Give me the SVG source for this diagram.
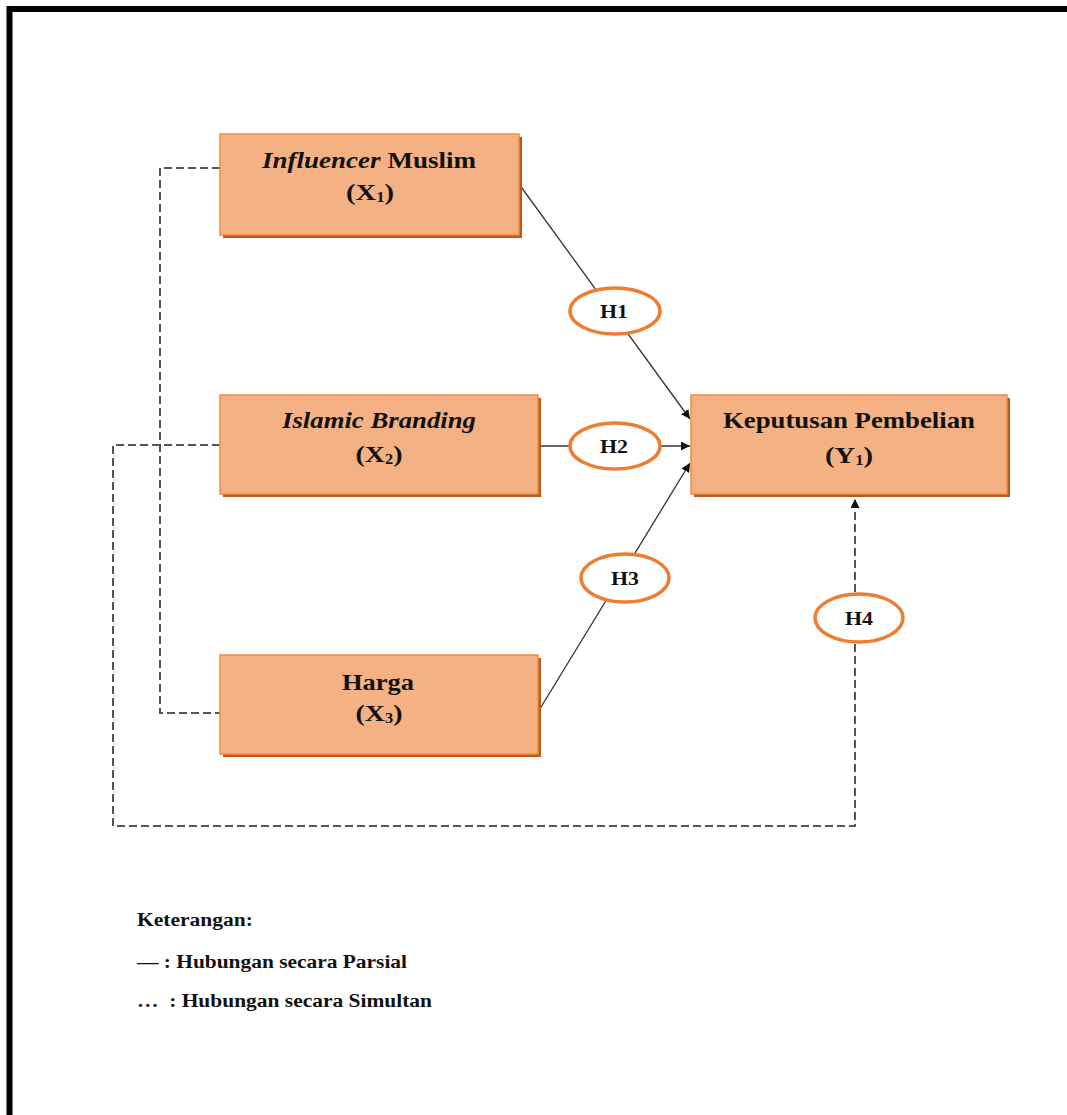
<svg xmlns="http://www.w3.org/2000/svg" width="1067" height="1115" viewBox="0 0 1067 1115">
<defs>
<style>
.box{fill:#F4B183;stroke:#F08A45;stroke-width:1.5}
.shadow{fill:#B85A1E}
.t{font-family:"Liberation Serif","Times New Roman",serif;font-weight:bold;font-size:24px;fill:#111;text-anchor:middle}
.h{font-family:"Liberation Serif","Times New Roman",serif;font-weight:bold;font-size:19px;fill:#111;text-anchor:middle}
.lg{font-family:"Liberation Serif","Times New Roman",serif;font-weight:bold;font-size:18px;fill:#111}
.ell{fill:#fff;stroke:#ED7D31;stroke-width:3.5}
.solid{stroke:#333;stroke-width:1.3;fill:none}
.dash{stroke:#555;stroke-width:2;fill:none;stroke-dasharray:8 4}
</style>
<marker id="arr" viewBox="0 0 10 10" refX="10" refY="5" markerWidth="9" markerHeight="9" markerUnits="userSpaceOnUse" orient="auto">
<path d="M0,0 L10,5 L0,10 z" fill="#111"/>
</marker>
</defs>
<rect width="1067" height="1115" fill="#fff"/>
<path d="M9.5,1115 V9 H1067" fill="none" stroke="#000" stroke-width="6"/>

<g id="connectors">
<path class="solid" d="M519,184 L690,419" marker-end="url(#arr)"/>
<path class="solid" d="M538,446 L690,446" marker-end="url(#arr)"/>
<path class="solid" d="M538,712 L690,463" marker-end="url(#arr)"/>
<path class="dash" d="M220,168 H160 V713 H220"/>
<path class="dash" d="M220,445 H113 V826 H855 V499" marker-end="url(#arr)"/>
</g>

<g id="x1">
<rect class="shadow" x="223" y="137" width="299" height="101"/>
<rect class="box" x="220" y="134" width="299" height="101"/>
<text class="t" x="369" y="168" textLength="214" lengthAdjust="spacingAndGlyphs"><tspan font-style="italic">Influencer</tspan> Muslim</text>
<text class="t" x="370" y="200" textLength="48" lengthAdjust="spacingAndGlyphs">(X<tspan font-size="14" dy="2">1</tspan><tspan dy="-2">)</tspan></text>
</g>
<g id="x2">
<rect class="shadow" x="223" y="398" width="318" height="99"/>
<rect class="box" x="220" y="395" width="318" height="99"/>
<text class="t" x="379" y="428" font-style="italic" textLength="194" lengthAdjust="spacingAndGlyphs">Islamic Branding</text>
<text class="t" x="379" y="462" textLength="47" lengthAdjust="spacingAndGlyphs">(X<tspan font-size="14" dy="2">2</tspan><tspan dy="-2">)</tspan></text>
</g>
<g id="x3">
<rect class="shadow" x="223" y="658" width="318" height="99"/>
<rect class="box" x="220" y="655" width="318" height="99"/>
<text class="t" x="378" y="690" textLength="72" lengthAdjust="spacingAndGlyphs">Harga</text>
<text class="t" x="379" y="721" textLength="47" lengthAdjust="spacingAndGlyphs">(X<tspan font-size="14" dy="2">3</tspan><tspan dy="-2">)</tspan></text>
</g>
<g id="y1">
<rect class="shadow" x="694" y="398" width="316" height="99"/>
<rect class="box" x="691" y="395" width="316" height="99"/>
<text class="t" x="849" y="428" textLength="252" lengthAdjust="spacingAndGlyphs">Keputusan Pembelian</text>
<text class="t" x="849" y="463" textLength="48" lengthAdjust="spacingAndGlyphs">(Y<tspan font-size="14" dy="2">1</tspan><tspan dy="-2">)</tspan></text>
</g>

<g id="h1"><ellipse class="ell" cx="615" cy="311" rx="45" ry="23"/><text class="h" x="614" y="318" textLength="28" lengthAdjust="spacingAndGlyphs">H1</text></g>
<g id="h2"><ellipse class="ell" cx="615" cy="446" rx="45" ry="23"/><text class="h" x="614" y="453" textLength="28" lengthAdjust="spacingAndGlyphs">H2</text></g>
<g id="h3"><ellipse class="ell" cx="625" cy="578" rx="44" ry="24"/><text class="h" x="625" y="585" textLength="28" lengthAdjust="spacingAndGlyphs">H3</text></g>
<g id="h4"><ellipse class="ell" cx="859" cy="618" rx="44" ry="24"/><text class="h" x="859" y="625" textLength="28" lengthAdjust="spacingAndGlyphs">H4</text></g>

<g id="legend">
<text class="lg" x="137" y="926" textLength="116" lengthAdjust="spacingAndGlyphs">Keterangan:</text>
<text class="lg" x="137" y="968" textLength="270" lengthAdjust="spacingAndGlyphs">— : Hubungan secara Parsial</text>
<text class="lg" x="137" y="1007" textLength="295" lengthAdjust="spacingAndGlyphs" xml:space="preserve">…  : Hubungan secara Simultan</text>
</g>
</svg>
